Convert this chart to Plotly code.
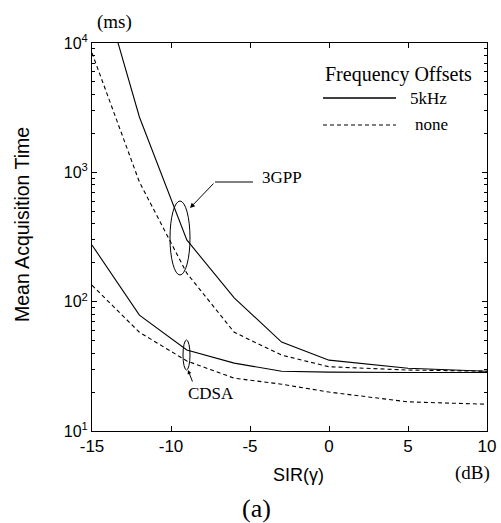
import plotly.graph_objects as go

sir_db = [-15, -12, -9, -6, -3, 0, 5, 10]

gpp_5khz = [50000, 2680, 300, 107, 48.7, 35.3, 30.6, 29.0]
gpp_none = [8380, 842, 166, 58, 38.6, 31.4, 29.6, 29.0]
cdsa_5khz = [274, 78.7, 42.3, 33.5, 29.0, 28.5, 28.3, 28.3]
cdsa_none = [134, 58, 34.8, 25.6, 23.0, 20.0, 16.8, 16.1]

y_tick_vals = [10, 100, 1000, 10000]
y_tick_text = ["10<sup>1</sup>", "10<sup>2</sup>", "10<sup>3</sup>", "10<sup>4</sup>"]
x_tick_vals = [-15, -10, -5, 0, 5, 10]
x_tick_text = ["-15", "-10", "-5", "0", "5", "10"]
minor_vals = [k * 10 ** d for d in range(1, 4) for k in range(2, 10)]

W, H = 501, 523
L, R, T, B = 92, 487, 43, 431


def px(x):
    return (x - L) / (R - L)


def py(y):
    return (B - y) / (B - T)


fig = go.Figure()
for vals, dash in [(gpp_5khz, "solid"), (gpp_none, "4px,3px"),
                   (cdsa_5khz, "solid"), (cdsa_none, "4px,3px")]:
    fig.add_trace(go.Scatter(x=sir_db, y=vals, mode="lines",
                             line=dict(color="black", width=1.1, dash=dash),
                             showlegend=False, cliponaxis=True, hoverinfo="skip"))

serif = "Liberation Serif"
sans = "Liberation Sans"

fig.update_layout(
    width=W, height=H, autosize=False,
    margin=dict(l=L, r=W - R, t=T, b=H - B, pad=0),
    paper_bgcolor="white", plot_bgcolor="white",
    showlegend=False,
    font=dict(family=sans, color="black", size=16),
)
fig.update_xaxes(range=[-15, 10], tickvals=x_tick_vals, ticktext=x_tick_text,
                 ticks="inside", ticklen=5, automargin=False,
                 showline=True, linecolor="black", linewidth=1, mirror="ticks",
                 showgrid=False, zeroline=False, tickfont=dict(family=sans, size=17),
                 tickcolor="black")
fig.update_yaxes(type="log", range=[1, 4], tickvals=y_tick_vals, ticktext=y_tick_text,
                 ticks="inside", ticklen=5, automargin=False,
                 showline=True, linecolor="black", linewidth=1,
                 mirror="ticks", showgrid=False, zeroline=False,
                 tickfont=dict(family=sans, size=16), tickcolor="black",
                 minor=dict(tickvals=minor_vals, ticks="inside", ticklen=3,
                            tickcolor="black", showgrid=False))


def txt(text, x, y, family, size, xanchor="center", angle=0):
    return dict(text=text, x=px(x), y=py(y), xref="paper", yref="paper",
                xanchor=xanchor, yanchor="middle", showarrow=False, textangle=angle,
                font=dict(family=family, size=size))


ann = [
    txt("(ms)", 114, 22, serif, 19),
    txt("(dB)", 472, 473, serif, 19),
    txt("SIR(γ)", 298, 475, sans, 18),
    txt("(a)", 256, 508, serif, 26),
    txt("Mean Acquisition Time", 22, 225, sans, 19.5, angle=-90),
    txt("Frequency Offsets", 323, 74, serif, 20, xanchor="left"),
    txt("5kHz", 408, 98, serif, 17, xanchor="left"),
    txt("none", 413, 124, serif, 17, xanchor="left"),
    txt("3GPP", 260, 177, serif, 17, xanchor="left"),
    txt("CDSA", 211, 393, serif, 17),
    dict(text="", x=px(190), y=py(208), xref="paper", yref="paper",
         ax=25, ay=-26, showarrow=True, arrowhead=2, arrowsize=1, arrowwidth=1,
         arrowcolor="black"),
    dict(text="", x=px(188), y=py(370), xref="paper", yref="paper",
         ax=5, ay=13, showarrow=True, arrowhead=2, arrowsize=0.8, arrowwidth=1,
         arrowcolor="black"),
]
fig.update_layout(annotations=ann)

shapes = [
    dict(type="line", x0=px(323), x1=px(396), y0=py(98), y1=py(98),
         xref="paper", yref="paper", line=dict(color="black", width=1.3)),
    dict(type="line", x0=px(323), x1=px(396), y0=py(125), y1=py(125),
         xref="paper", yref="paper", line=dict(color="black", width=1, dash="4px,3px")),
    dict(type="line", x0=px(215), x1=px(253), y0=py(182), y1=py(182),
         xref="paper", yref="paper", line=dict(color="black", width=1)),
    dict(type="circle", x0=px(170), x1=px(190), y0=py(201), y1=py(275),
         xref="paper", yref="paper", line=dict(color="black", width=1)),
    dict(type="circle", x0=px(183), x1=px(190), y0=py(340), y1=py(370),
         xref="paper", yref="paper", line=dict(color="black", width=1)),
]
fig.update_layout(shapes=shapes)

fig.write_html("out.html", config={"displayModeBar": False, "responsive": False})

with open("out.html", "r", encoding="utf-8") as f:
    html = f.read()
html = html.replace("<head>", "<head><style>html,body{margin:0;padding:0;overflow:hidden;}</style>", 1)
with open("out.html", "w", encoding="utf-8") as f:
    f.write(html)
